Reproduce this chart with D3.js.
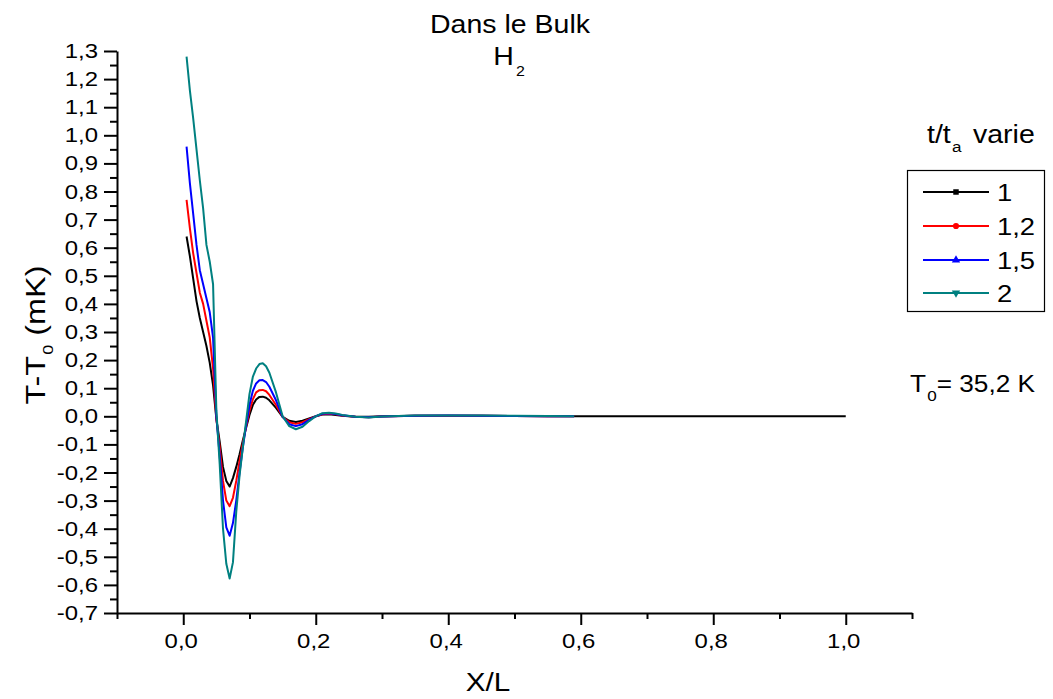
<!DOCTYPE html>
<html>
<head>
<meta charset="utf-8">
<script src="https://cdn.jsdelivr.net/npm/d3@7"></script>
<style>
  html, body { margin: 0; padding: 0; background: #fff; }
  svg { display: block; font-family: Arial, "Liberation Sans", sans-serif; }
</style>
</head>
<body>
<svg id="chart" width="1053" height="699"></svg>
<script>
// Position X/L shared by all profiles
const xPos = [0.005, 0.01, 0.015, 0.02, 0.025, 0.03, 0.035, 0.04, 0.045, 0.05,
  0.055, 0.06, 0.065, 0.07, 0.075, 0.08, 0.085, 0.09, 0.095, 0.1,
  0.105, 0.11, 0.115, 0.12, 0.125, 0.13, 0.14, 0.15, 0.16, 0.17,
  0.18, 0.19, 0.2, 0.21, 0.22, 0.23, 0.24, 0.26, 0.28, 0.3,
  0.35, 0.4, 0.45, 0.5, 0.55, 0.59, 0.7, 0.8, 0.9, 1.0];

// T - T0 (mK) for each value of t/ta
const t1 = [0.64, 0.57, 0.49, 0.41, 0.35, 0.30, 0.25, 0.19, 0.11, -0.01,
  -0.09, -0.18, -0.23, -0.25, -0.22, -0.18, -0.135, -0.085, -0.04, 0.005,
  0.04, 0.06, 0.069, 0.07, 0.066, 0.057, 0.03, -0.002, -0.016, -0.02,
  -0.016, -0.008, 0.0, 0.006, 0.007, 0.005, 0.002, -0.002, -0.002, 0.0,
  0.002, 0.002, 0.002, 0.001, 0.0, 0.0, 0.0, 0.0, 0.0, 0.0];
const t12 = [0.77, 0.67, 0.58, 0.51, 0.44, 0.40, 0.34, 0.28, 0.17, -0.01,
  -0.11, -0.23, -0.30, -0.32, -0.29, -0.23, -0.16, -0.095, -0.035, 0.02,
  0.06, 0.085, 0.093, 0.094, 0.089, 0.076, 0.04, -0.002, -0.021, -0.027,
  -0.021, -0.01, 0.0, 0.007, 0.009, 0.007, 0.003, -0.002, -0.003, -0.001,
  0.002, 0.002, 0.002, 0.001, 0.0, 0.0, null, null, null, null];
const t15 = [0.96, 0.83, 0.72, 0.61, 0.52, 0.47, 0.42, 0.37, 0.28, 0.0,
  -0.14, -0.30, -0.395, -0.425, -0.38, -0.30, -0.20, -0.11, -0.03, 0.04,
  0.09, 0.117, 0.128, 0.129, 0.122, 0.105, 0.057, -0.002, -0.028, -0.035,
  -0.028, -0.013, 0.0, 0.009, 0.011, 0.008, 0.004, -0.002, -0.003, -0.001,
  0.002, 0.003, 0.002, 0.001, 0.0, 0.0, null, null, null, null];
const t2 = [1.28, 1.16, 1.06, 0.95, 0.84, 0.74, 0.61, 0.55, 0.47, 0.02,
  -0.17, -0.40, -0.525, -0.577, -0.52, -0.34, -0.21, -0.11, -0.015, 0.08,
  0.14, 0.17, 0.186, 0.189, 0.178, 0.155, 0.085, 0.0, -0.035, -0.046,
  -0.037, -0.017, 0.0, 0.011, 0.013, 0.01, 0.005, -0.002, -0.004, -0.001,
  0.003, 0.003, 0.003, 0.002, 0.001, 0.0, null, null, null, null];

const seriesNames = ["1", "1,2", "1,5", "2"];
const seriesValues = [t1, t12, t15, t2];
const seriesColors = ["#000000", "#ff0000", "#0000ff", "#008080"];
const seriesMarkers = ["square", "circle", "triangleUp", "triangleDown"];

const xTicksMajor = [0, 0.2, 0.4, 0.6, 0.8, 1.0];
const xTicksMinor = [-0.1, 0.1, 0.3, 0.5, 0.7, 0.9, 1.1];
const yTicksMajor = d3.range(-7, 14).map(d => d / 10);
const yTicksMinor = d3.range(-7, 13).map(d => d / 10 + 0.05);

const fmt = v => d3.format(".1f")(v).replace(".", ",").replace("−", "-");

const svg = d3.select("#chart");
const x = d3.scaleLinear().domain([-0.1, 1.1]).range([117, 912]);
const y = d3.scaleLinear().domain([-0.7, 1.3]).range([613, 51]);
const SX = 1.14; // horizontal text stretch

function label(g, px, py, anchor, size) {
  return g.append("text")
    .attr("transform", `translate(${px},${py}) scale(${SX},1)`)
    .attr("text-anchor", anchor)
    .attr("font-size", size)
    .attr("fill", "#000");
}

// X axis
const gx = svg.append("g").attr("transform", `translate(0,${y(-0.7)})`);
gx.call(d3.axisBottom(x).tickValues(xTicksMajor).tickSize(12).tickFormat(""));
gx.call(g => g.select(".domain").remove());
const gx2 = svg.append("g").attr("transform", `translate(0,${y(-0.7)})`);
gx2.call(d3.axisBottom(x).tickValues(xTicksMinor).tickSize(6).tickSizeOuter(0).tickFormat(""));
svg.selectAll(".tick line").attr("stroke-width", 2);
gx2.select(".domain").attr("stroke-width", 2);
xTicksMajor.forEach(v => label(svg, x(v) - 2, 648, "middle", 21).text(fmt(v)));

// Y axis
const gy = svg.append("g").attr("transform", `translate(${x(-0.1)},0)`);
gy.call(d3.axisLeft(y).tickValues(yTicksMajor).tickSize(13).tickFormat(""));
gy.call(g => g.select(".domain").remove());
const gy2 = svg.append("g").attr("transform", `translate(${x(-0.1)},0)`);
gy2.call(d3.axisLeft(y).tickValues(yTicksMinor).tickSize(7).tickSizeOuter(0).tickFormat(""));
svg.selectAll(".tick line").attr("stroke-width", 2);
gy2.select(".domain").attr("stroke-width", 2);
yTicksMajor.forEach(v => label(svg, 98, y(v) + 7, "end", 21).text(fmt(v)));

// Curves
const line = d3.line()
  .defined(d => d[1] !== null)
  .x(d => x(d[0]))
  .y(d => y(d[1]));
const plot = svg.append("g");
seriesValues.forEach((vals, i) => {
  plot.append("path")
    .datum(xPos.map((xv, k) => [xv, vals[k]]))
    .attr("fill", "none")
    .attr("stroke", seriesColors[i])
    .attr("stroke-width", 2)
    .attr("stroke-linejoin", "round")
    .attr("d", line);
});

// Titles
label(svg, 510, 33, "middle", 25).text("Dans le Bulk");
const h2 = label(svg, 509, 65, "middle", 25);
h2.append("tspan").text("H");
h2.append("tspan").attr("font-size", 14).attr("dy", 11).attr("dx", 2).text("2");

label(svg, 488, 691, "middle", 26).text("X/L");

const yt = svg.append("text")
  .attr("transform", `translate(45,335) rotate(-90) scale(1.2,1)`)
  .attr("text-anchor", "middle")
  .attr("font-size", 27);
yt.append("tspan").text("T-T");
yt.append("tspan").attr("font-size", 15).attr("dy", 8).attr("dx", 1).text("0");
yt.append("tspan").attr("dy", -8).text(" (mK)");

// Legend
const lt = label(svg, 927, 143, "start", 25);
lt.append("tspan").text("t/t");
lt.append("tspan").attr("font-size", 15).attr("dy", 9).attr("dx", 1).text("a");
label(svg, 973, 143, "start", 25).text("varie");

svg.append("rect").attr("x", 907.5).attr("y", 170.5).attr("width", 137).attr("height", 141)
  .attr("fill", "none").attr("stroke", "#000").attr("stroke-width", 1.2);

const rowY = [192, 226, 260, 293];
const sym = {
  square: d3.symbolSquare, circle: d3.symbolCircle,
  triangleUp: d3.symbolTriangle, triangleDown: d3.symbolTriangle
};
seriesNames.forEach((name, i) => {
  const ry = rowY[i];
  svg.append("line").attr("x1", 923).attr("x2", 989).attr("y1", ry).attr("y2", ry)
    .attr("stroke", seriesColors[i]).attr("stroke-width", 2);
  svg.append("path")
    .attr("d", d3.symbol().type(sym[seriesMarkers[i]]).size(30)())
    .attr("transform", `translate(956,${ry})` + (seriesMarkers[i] === "triangleDown" ? " rotate(180)" : ""))
    .attr("fill", seriesColors[i]);
  label(svg, 997, ry + 9, "start", 24).text(name);
});

// Reference temperature
const t0 = label(svg, 910, 392, "start", 23);
t0.append("tspan").text("T");
t0.append("tspan").attr("font-size", 15).attr("dy", 9).attr("dx", 1).text("0");
t0.append("tspan").attr("dy", -9).text("= 35,2 K");
</script>
</body>
</html>
